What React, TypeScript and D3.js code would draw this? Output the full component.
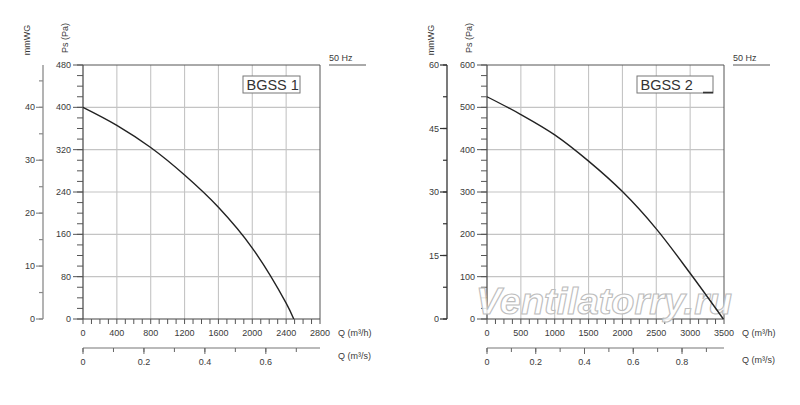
import React from 'react';
import * as d3 from 'd3';

// BGSS 1 fan curve (Q m3/h -> Ps Pa)
const flow1 = [0, 400, 800, 1200, 1600, 2000, 2400, 2490];
const pressure1 = [400, 366, 324, 272, 211, 134, 30, 0];
// BGSS 2 fan curve
const flow2 = [0, 500, 1000, 1500, 2000, 2500, 3000, 3490];
const pressure2 = [525, 483, 435, 373, 301, 213, 108, 0];

const qTicks1 = [0, 400, 800, 1200, 1600, 2000, 2400, 2800];
const psTicks1 = [0, 80, 160, 240, 320, 400, 480];
const mmTicks1 = [0, 10, 20, 30, 40];
const m3sTicks1 = [0, 0.2, 0.4, 0.6];

const qTicks2 = [0, 500, 1000, 1500, 2000, 2500, 3000, 3500];
const psTicks2 = [0, 100, 200, 300, 400, 500, 600];
const mmTicks2 = [0, 15, 30, 45, 60];
const m3sTicks2 = [0, 0.2, 0.4, 0.6, 0.8];

const TOP = 65;
const BOTTOM = 319;
const FONT = '"Liberation Sans", Arial, sans-serif';
const LABEL = '#3a3a3a';

type PanelProps = {
  x0: number; x1: number; mmX: number;
  flows: number[]; pressures: number[];
  qTicks: number[]; psTicks: number[]; mmTicks: number[]; m3sTicks: number[];
  qMinor: number; psMinor: number; mmMinor: number;
  title: string; box: [number, number]; mmStroke: string; qsY: number;
  corner?: boolean; watermark?: string;
};

function Panel(p: PanelProps) {
  const qMax = p.qTicks[p.qTicks.length - 1];
  const psMax = p.psTicks[p.psTicks.length - 1];
  const x = d3.scaleLinear().domain([0, qMax]).range([p.x0, p.x1]);
  const y = d3.scaleLinear().domain([0, psMax]).range([BOTTOM, TOP]);
  const mm = d3.scaleLinear().domain([0, psMax / 10]).range([BOTTOM, TOP]);
  const xs = d3.scaleLinear().domain([0, qMax / 3600]).range([p.x0, p.x1]);

  const line = d3.line<number>()
    .x((_, i) => x(p.flows[i]))
    .y(d => y(d))
    .curve(d3.curveCatmullRom.alpha(0.5));

  const qMinor = d3.range(0, qMax + 1e-6, p.qMinor);
  const psMinor = d3.range(0, psMax + 1e-6, p.psMinor);
  const mmMinor = d3.range(0, psMax / 10 + 1e-6, p.mmMinor);
  const sMinor = d3.range(0, qMax / 3600, 0.1);
  const MY = 348;

  return (
    <g fontFamily={FONT}>
      {/* grid */}
      {p.qTicks.slice(1, -1).map(t => (
        <line key={'gx' + t} x1={x(t)} x2={x(t)} y1={TOP} y2={BOTTOM} stroke="#c4c4c4" strokeWidth={1.1} />
      ))}
      {p.psTicks.slice(1, -1).map(t => (
        <line key={'gy' + t} x1={p.x0} x2={p.x1} y1={y(t)} y2={y(t)} stroke="#c4c4c4" strokeWidth={1.1} />
      ))}
      {/* frame */}
      <line x1={p.x0} x2={p.x1} y1={TOP} y2={TOP} stroke="#555" strokeWidth={1} />
      <line x1={p.x1} x2={p.x1} y1={TOP} y2={BOTTOM} stroke="#555" strokeWidth={1} />
      <line x1={p.x0} x2={p.x0} y1={TOP} y2={BOTTOM} stroke="#444" strokeWidth={1.2} />
      <line x1={p.x0} x2={p.x1} y1={BOTTOM} y2={BOTTOM} stroke="#444" strokeWidth={1.2} />

      {/* Ps axis ticks */}
      {psMinor.map(t => (
        <line key={'pm' + t} x1={p.x0 - 6} x2={p.x0} y1={y(t)} y2={y(t)} stroke="#555" />
      ))}
      {p.psTicks.map(t => (
        <g key={'pt' + t}>
          <line x1={p.x0 - 10} x2={p.x0} y1={y(t)} y2={y(t)} stroke="#555" />
          <text x={p.x0 - 12} y={y(t)} dy="0.35em" textAnchor="end" fontSize={9} fill={LABEL}>{t}</text>
        </g>
      ))}

      {/* mmWG axis */}
      <line x1={p.mmX} x2={p.mmX} y1={TOP} y2={BOTTOM} stroke={p.mmStroke} strokeWidth={1.3} />
      {mmMinor.map(t => (
        <line key={'mm' + t} x1={p.mmX - 4} x2={p.mmX} y1={mm(t)} y2={mm(t)} stroke={p.mmStroke} strokeWidth={1.2} />
      ))}
      {p.mmTicks.map(t => (
        <g key={'mt' + t}>
          <line x1={p.mmX - 7} x2={p.mmX} y1={mm(t)} y2={mm(t)} stroke={p.mmStroke} strokeWidth={1.2} />
          <text x={p.mmX - 8} y={mm(t)} dy="0.35em" textAnchor="end" fontSize={9} fill={LABEL}>{t}</text>
        </g>
      ))}

      {/* Q m3/h axis */}
      {qMinor.map(t => (
        <line key={'qm' + t} x1={x(t)} x2={x(t)} y1={BOTTOM} y2={BOTTOM + 5} stroke="#555" />
      ))}
      {p.qTicks.map(t => (
        <text key={'qt' + t} x={x(t)} y={BOTTOM + 17} textAnchor="middle" fontSize={9} fill={LABEL}>{t}</text>
      ))}
      <text x={p.x1 + 18} y={BOTTOM + 17} fontSize={9} fill={LABEL}>Q (m³/h)</text>

      {/* Q m3/s axis */}
      <line x1={p.x0} x2={p.x1} y1={MY} y2={MY} stroke="#777" strokeWidth={1.2} />
      {sMinor.map(t => (
        <line key={'sm' + t} x1={xs(t)} x2={xs(t)} y1={MY} y2={MY + 4} stroke="#666" />
      ))}
      {p.m3sTicks.map(t => (
        <g key={'st' + t}>
          <line x1={xs(t)} x2={xs(t)} y1={MY} y2={MY + 6} stroke="#666" />
          <text x={xs(t)} y={MY + 17} textAnchor="middle" fontSize={9} fill={LABEL}>{t}</text>
        </g>
      ))}
      <text x={p.x1 + 18} y={p.qsY} fontSize={9} fill={LABEL}>Q (m³/s)</text>

      {/* axis titles */}
      <text transform={`translate(${p.mmX - 13},40) rotate(-90)`} textAnchor="middle" fontSize={9} fill={LABEL}>mmWG</text>
      <text transform={`translate(${p.x0 - 15},38) rotate(-90)`} textAnchor="middle" fontSize={9} fill={LABEL}>Ps (Pa)</text>

      {/* 50 Hz */}
      <text x={p.x1 + 9} y={61} fontSize={9} fill={LABEL}>50 Hz</text>
      <line x1={p.x1 + 9} x2={p.x1 + 46} y1={TOP} y2={TOP} stroke="#555" />

      {/* model box */}
      <rect x={p.box[0]} y={76} width={p.box[1]} height={17} fill="#fff" stroke="#777" />
      {p.corner && (
        <line x1={p.box[0] + p.box[1] - 10} x2={p.box[0] + p.box[1]} y1={92.5} y2={92.5} stroke="#333" strokeWidth={1.6} />
      )}
      <text x={p.box[0] + 3.5} y={89.5} fontSize={14.5} fill="#333">{p.title}</text>

      {/* watermark under the curve */}
      {p.watermark && (
        <text x={p.x0 - 11} y={313.5} fontStyle="italic" fontWeight="bold" fontSize={37} textLength={256}
          lengthAdjust="spacingAndGlyphs" fill="#fff" fillOpacity={0.85} stroke="#bdbdbd" strokeWidth={1.1}>{p.watermark}</text>
      )}

      {/* curve */}
      <path d={line(p.pressures) || ''} fill="none" stroke="#222" strokeWidth={1.4} />
    </g>
  );
}

export default function App() {
  return (
    <svg width={800} height={405} style={{ position: 'absolute', left: 0, top: 0, background: '#fff' }}>
      <rect width={800} height={405} fill="#fff" />
      <Panel x0={83} x1={320} mmX={43} flows={flow1} pressures={pressure1}
        qTicks={qTicks1} psTicks={psTicks1} mmTicks={mmTicks1} m3sTicks={m3sTicks1}
        qMinor={100} psMinor={20} mmMinor={5} title="BGSS 1" box={[243, 57]} mmStroke="#8a8a8a" qsY={359} />
      <Panel x0={487} x1={724} mmX={447} flows={flow2} pressures={pressure2}
        qTicks={qTicks2} psTicks={psTicks2} mmTicks={mmTicks2} m3sTicks={m3sTicks2}
        qMinor={125} psMinor={25} mmMinor={7.5} title="BGSS 2" box={[637, 76]} mmStroke="#333" qsY={363}
        corner watermark="Ventilatorry.ru" />
    </svg>
  );
}
